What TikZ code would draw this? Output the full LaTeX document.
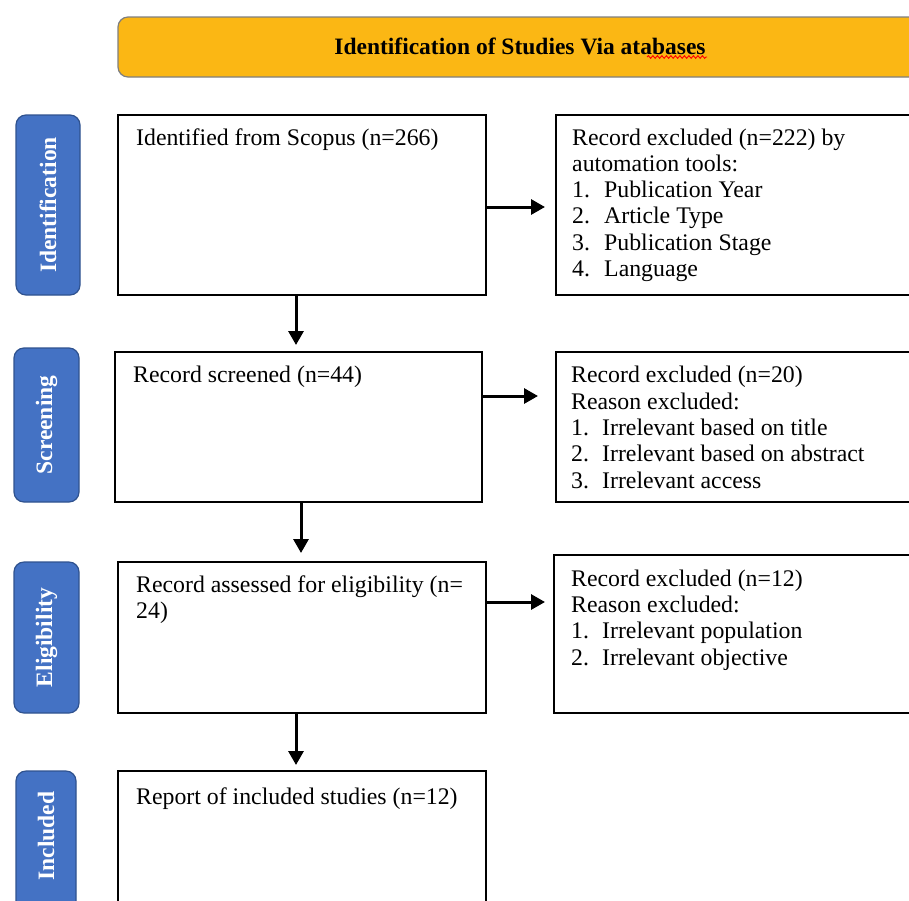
\documentclass[tikz,border=0pt]{standalone}
\usepackage{fontspec}
\setmainfont{Liberation Serif}
\usetikzlibrary{arrows.meta,decorations.pathmorphing}
\definecolor{hdr}{HTML}{FBB714}
\definecolor{hdrb}{HTML}{7F7F7F}
\definecolor{side}{HTML}{4472C4}
\definecolor{sideb}{HTML}{2F528F}
\begin{document}
\begin{tikzpicture}[x=1pt,y=-1pt,
  box/.style={draw=black,line width=1.3pt,inner sep=0pt,outer sep=0pt},
  sidebox/.style={draw=sideb,fill=side,line width=1.2pt,rounded corners=10pt,inner sep=0pt,outer sep=0pt},
  sidetxt/.style={text=white,font=\fontsize{23.5}{26}\selectfont\bfseries,rotate=90,inner sep=0pt},
  txt/.style={anchor=base west,inner sep=0pt,font=\fontsize{23.8}{26}\selectfont},
  arr/.style={line width=3pt,-{Triangle[length=14pt,width=15pt]}}]
\useasboundingbox (0,0) rectangle (909,900);
\clip (0,0) rectangle (909,900);
% header
\node[draw=hdrb,fill=hdr,line width=1.2pt,rounded corners=10pt,minimum width=820pt,minimum height=60pt,inner sep=0pt] (hd) at (528,47) {};
\node[inner sep=0pt,font=\fontsize{23.5}{26}\selectfont\bfseries] (ht) at (520,46) {Identification of Studies Via atabases};
\coordinate (w1) at (647,57);
\coordinate (w2) at (707,57);
\draw[red,line width=0.9pt,decorate,decoration={snake,amplitude=1.3pt,segment length=4.5pt}] (w1) -- (w2);
% side labels
\node[sidebox,minimum width=64pt,minimum height=180pt] (s1) at (48,205) {};
\node[sidetxt] at (s1.center) {Identification};
\node[sidebox,minimum width=65pt,minimum height=154pt] (s2) at (46.5,425) {};
\node[sidetxt] at (s2.center) {Screening};
\node[sidebox,minimum width=65pt,minimum height=151pt] (s3) at (46.5,637.5) {};
\node[sidetxt] at (s3.center) {Eligibility};
\node[sidebox,minimum width=60pt,minimum height=160pt] (s4) at (46,851) {};
\node[sidetxt] at (46,836) {Included};
% main boxes
\node[box,minimum width=368pt,minimum height=180pt] (b1) at (302,205) {};
\node[box,minimum width=367pt,minimum height=150pt] (b2) at (298.5,427) {};
\node[box,minimum width=368pt,minimum height=151pt] (b3) at (302,637.5) {};
\node[box,minimum width=368pt,minimum height=160pt] (b4) at (302,851) {};
% exclusion boxes
\node[box,minimum width=380pt,minimum height=180pt] (e1) at (746,205) {};
\node[box,minimum width=380pt,minimum height=150pt] (e2) at (746,427) {};
\node[box,minimum width=382pt,minimum height=158pt] (e3) at (745,634) {};
% texts
\node[txt] (t1) at (136,145) {Identified from Scopus (n=266)};
\node[txt] (t2) at (133,382) {Record screened (n=44)};
\node[txt] (t3a) at (136,592) {Record assessed for eligibility (n=};
\node[txt] (t3b) at (136,618) {24)};
\node[txt] (t4) at (136,804) {Report of included studies (n=12)};
% excl 1
\node[txt] at (572,145) {Record excluded (n=222) by};
\node[txt] at (572,171) {automation tools:};
\node[txt] at (572,197) {1.}; \node[txt] at (604,197) {Publication Year};
\node[txt] at (572,223) {2.}; \node[txt] at (604,223) {Article Type};
\node[txt] at (572,250) {3.}; \node[txt] at (604,250) {Publication Stage};
\node[txt] at (572,276) {4.}; \node[txt] at (604,276) {Language};
% excl 2
\node[txt] at (571,382) {Record excluded (n=20)};
\node[txt] at (571,409) {Reason excluded:};
\node[txt] at (571,435) {1.}; \node[txt] at (602,435) {Irrelevant based on title};
\node[txt] at (571,461) {2.}; \node[txt] at (602,461) {Irrelevant based on abstract};
\node[txt] at (571,488) {3.}; \node[txt] at (602,488) {Irrelevant access};
% excl 3
\node[txt] at (571,586) {Record excluded (n=12)};
\node[txt] at (571,612) {Reason excluded:};
\node[txt] at (571,638) {1.}; \node[txt] at (602,638) {Irrelevant population};
\node[txt] at (571,665) {2.}; \node[txt] at (602,665) {Irrelevant objective};
% arrows
\draw[arr,shorten >=11pt] (b1.east |- 0,207) -- (e1.west |- 0,207);
\draw[arr,shorten >=18pt] (b2.east |- 0,396) -- (e2.west |- 0,396);
\draw[arr,shorten >=9pt] (b3.east |- 0,602) -- (e3.west |- 0,602);
\draw[arr,shorten >=7pt] (b1.south -| 296,0) -- (b2.north -| 296,0);
\draw[arr,shorten >=9pt] (b2.south -| 301,0) -- (b3.north -| 301,0);
\draw[arr,shorten >=6pt] (b3.south -| 296,0) -- (b4.north -| 296,0);
\end{tikzpicture}
\end{document}
